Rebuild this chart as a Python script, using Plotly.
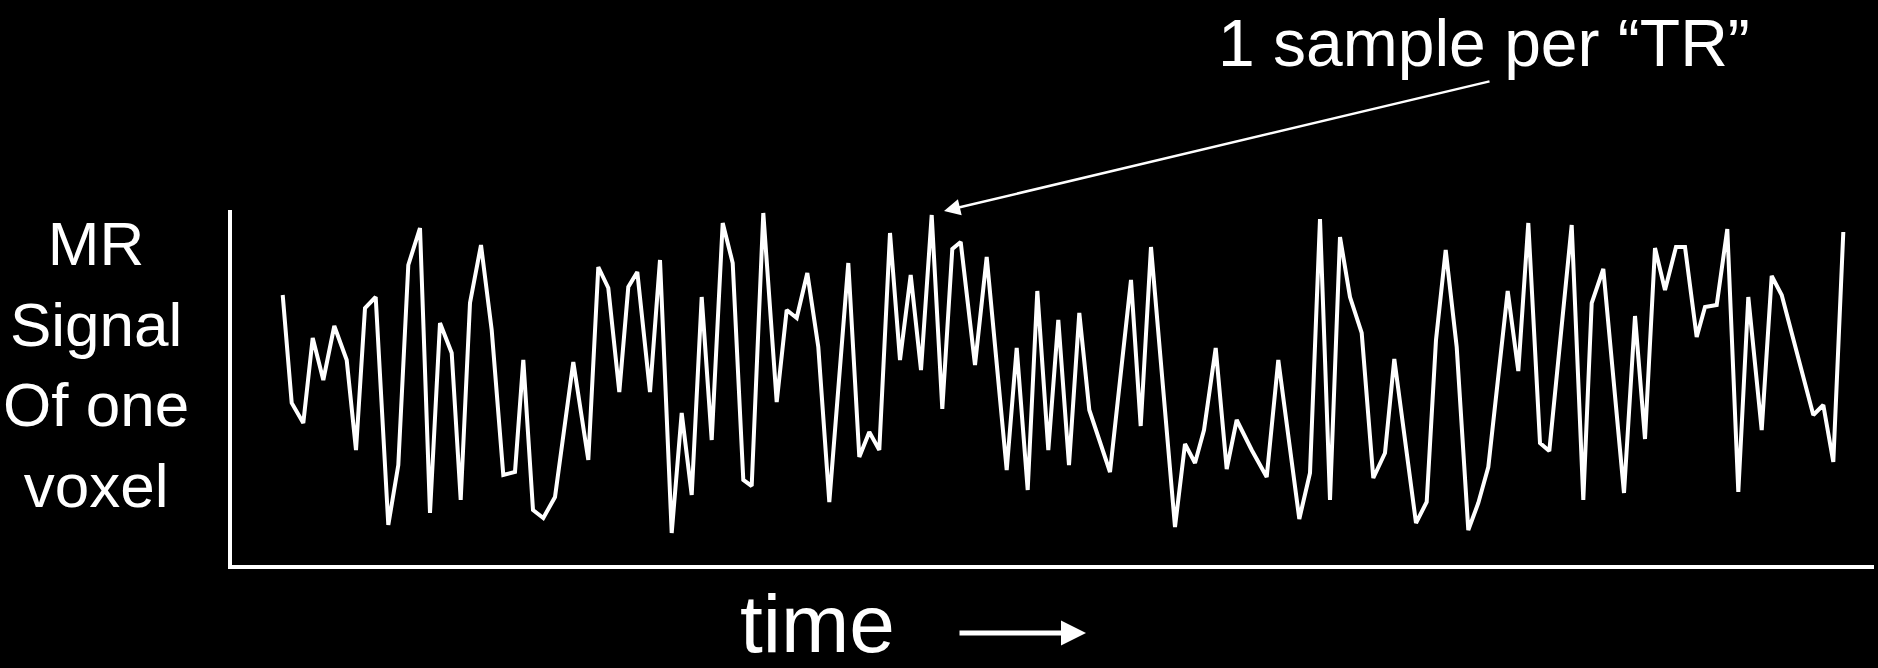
import plotly.graph_objects as go

# Sample times (arbitrary time units along the axis) and MR signal values (arbitrary units)
time_pts = [50.7, 59.7, 71.3, 80.7, 91.3, 102.3, 114.7, 124, 133, 143.7, 156.3, 166.3, 176.3, 188, 198,
            208, 219.7, 228.7, 238, 249, 259.7, 271.3, 283, 291.3, 301, 311.3, 323, 341.3, 356.3, 366.3,
            376.3, 387.3, 396.3, 405.3, 418, 428, 439.7, 449.7, 459.7, 469.7, 479.7, 490.7, 500.7, 511.3,
            519.7, 531.3, 544.7, 554.7, 564.7, 575.3, 586.3, 597.3, 616.3, 627.3, 637.3, 647.3, 658, 668,
            678.7, 689, 699.7, 710.3, 720.3, 728.7, 743, 754.7, 774.7, 784.7, 795.7, 805.3, 816.3, 826.3,
            837, 847.3, 857.3, 878, 899, 908.7, 919, 943, 953, 963, 972, 983.7, 994.7, 1004.7, 1019.7,
            1034.7, 1046.3, 1067.3, 1078, 1088, 1098, 1108, 1118, 1129.7, 1141.3, 1153, 1162.3, 1184,
            1194.7, 1204, 1213.7, 1224.7, 1236.3, 1246.3, 1256.3, 1275.7, 1286.3, 1296.3, 1308, 1317.3,
            1339.7, 1351.3, 1359.7, 1371.3, 1392, 1403, 1413, 1423, 1433, 1444, 1453, 1464.7, 1473,
            1484.7, 1495.3, 1506.3, 1516.3, 1529.7, 1539.7, 1549.7, 1581.3, 1591.3, 1601.3, 1611.3]
signal = [270, 162, 142, 227, 185, 239, 205, 115, 257, 268, 40, 100, 300, 337, 52,
          242, 212, 65, 262, 320, 235, 90, 93, 205, 55, 47, 68, 203, 105, 298,
          277, 173, 278, 293, 173, 305, 32, 152, 70, 268, 125, 342, 302, 85,
          79, 352, 163, 255, 247, 292, 218, 63, 302, 108, 133, 115, 332, 205,
          290, 195, 350, 156, 316, 323, 200, 308, 95, 217, 75, 274, 115, 245,
          100, 252, 155, 93, 285, 139, 318, 38, 121, 102, 135, 217, 96, 145, 115,
          88, 205, 46, 92, 346, 65, 328, 268, 232, 87, 112, 206, 42,
          63, 225, 315, 218, 35, 62, 98, 274, 194, 342, 122, 114,
          340, 65, 262, 296, 72, 249, 126, 317, 275, 318, 318, 228, 258,
          260, 336, 73, 268, 135, 289, 270, 150, 160, 103, 333]

x_range = [0, 1642]
y_range = [0, 355]

W, H = 1878, 668
L, R, T, B = 232, 4, 210, 103
PW, PH = W - L - R, H - T - B


def px(xp):
    return (xp - L) / PW


def py(yp):
    return (H - B - yp) / PH


fig = go.Figure()
fig.add_trace(go.Scatter(x=time_pts, y=signal, mode="lines",
                         line=dict(color="white", width=4), hoverinfo="skip",
                         showlegend=False))

font = "Liberation Sans, Arial, sans-serif"

fig.update_layout(
    width=W, height=H,
    margin=dict(l=L, r=R, t=T, b=B, pad=0),
    paper_bgcolor="black", plot_bgcolor="black",
    xaxis=dict(range=x_range, showgrid=False, zeroline=False, showticklabels=False,
               ticks="", showline=True, linecolor="white", linewidth=4, mirror=False),
    yaxis=dict(range=y_range, showgrid=False, zeroline=False, showticklabels=False,
               ticks="", showline=True, linecolor="white", linewidth=4, mirror=False),
    font=dict(family=font, color="white"),
)

annotations = [
    dict(text="MR<br>Signal<br>Of one<br>voxel", xref="paper", yref="paper",
         x=px(96), y=py(364), xanchor="center", yanchor="middle", showarrow=False,
         font=dict(size=62, color="white", family=font), align="center"),
    dict(text="time", xref="paper", yref="paper", x=px(817), y=py(671),
         xanchor="center", yanchor="bottom", showarrow=False,
         font=dict(size=82, color="white", family=font)),
    dict(text="", xref="paper", yref="paper", x=px(1086), y=py(633),
         ax=-128, ay=0, showarrow=True, arrowhead=2, arrowsize=1, arrowwidth=5,
         arrowcolor="white"),
    dict(text="1 sample per \u201cTR\u201d", xref="paper", yref="paper",
         x=px(1484), y=py(43), xanchor="center", yanchor="middle", showarrow=False,
         font=dict(size=66, color="white", family=font)),
    dict(text="", xref="paper", yref="paper", x=px(944), y=py(211),
         ax=1491 - 944, ay=81 - 211, showarrow=True, arrowhead=2, arrowsize=1.3,
         arrowwidth=2.5, arrowcolor="white"),
]
fig.update_layout(annotations=annotations)

fig.write_html(
    "out.html",
    config={"displayModeBar": False},
    post_script="document.body.style.margin='0';document.body.style.background='black';",
)
